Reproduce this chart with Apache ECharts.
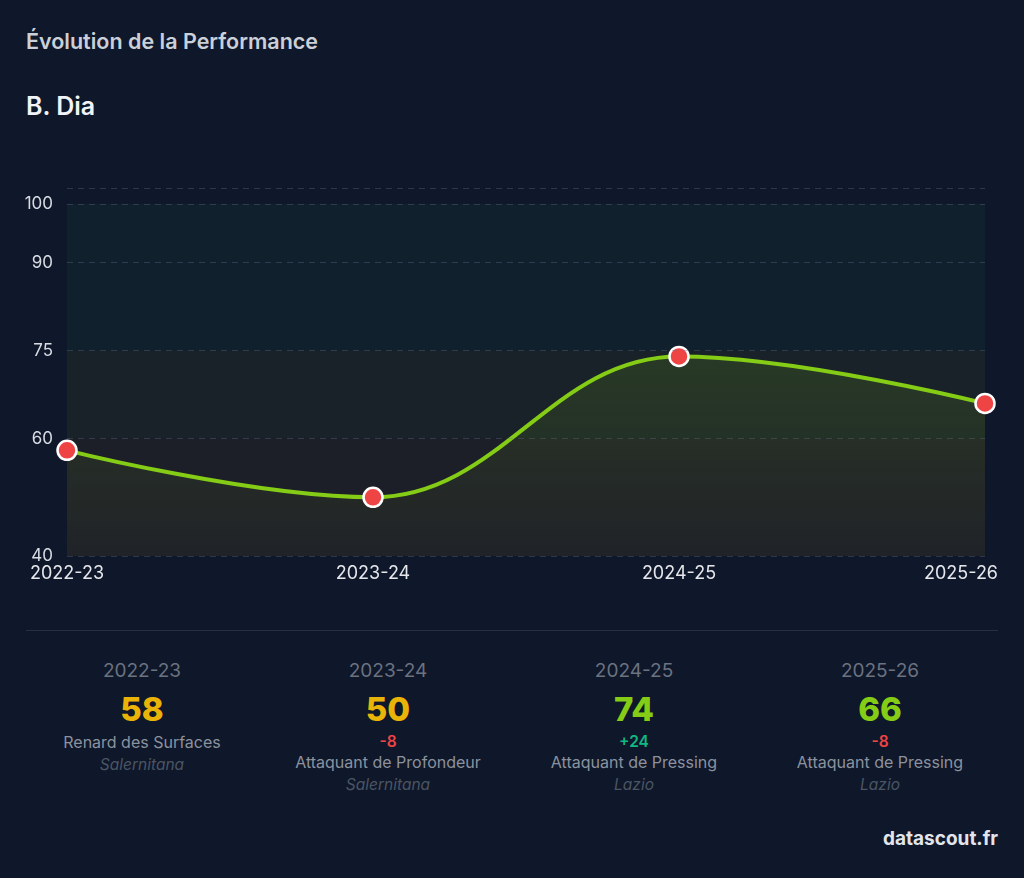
<!DOCTYPE html>
<html>
<head>
<meta charset="utf-8">
<script src="https://cdn.jsdelivr.net/npm/echarts@6/dist/echarts.min.js"></script>
<style>
    html, body { margin: 0; padding: 0; background: #0f172a; }
    body { width: 1024px; height: 878px; position: relative; overflow: hidden; font-family: Inter, "Noto Sans", sans-serif; }
    .title { position: absolute; left: 26px; top: 28px; font-size: 21.5px; font-weight: 600; color: #cbd0d8; }
    .player { position: absolute; left: 26px; top: 91px; font-size: 25px; font-weight: 600; color: #f1f3f6; }
    #chart { position: absolute; left: 0; top: 0; width: 1024px; height: 610px; }
    .divider { position: absolute; left: 26px; top: 630px; width: 972px; height: 1px; background: #253044; }
    .stats { position: absolute; left: 19px; top: 659px; width: 984px; display: flex; }
    .stat { width: 246px; text-align: center; }
    .season { font-size: 19px; line-height: 24px; color: #6b7280; margin-bottom: 8px; }
    .value { font-size: 33px; line-height: 36px; font-weight: 800; margin-bottom: 5px; }
    .delta { font-size: 15.5px; line-height: 20px; font-weight: 600; }
    .role { font-size: 16px; line-height: 21px; color: #8b929e; }
    .team { font-size: 15.5px; line-height: 23px; color: #4b5563; font-style: italic; }
    .brand { position: absolute; right: 26px; top: 827px; font-size: 19px; font-weight: 700; color: #e2e5ea; }
</style>
</head>
<body>
<div class="title">Évolution de la Performance</div>
<div class="player">B. Dia</div>
<div id="chart"></div>
<div class="divider"></div>
<div class="stats" id="stats"></div>
<div class="brand">datascout.fr</div>
<script>
    // saisons et notes
    var seasons = ['2022-23', '2023-24', '2024-25', '2025-26'];
    var ratings = [58, 50, 74, 66];
    var roles = ['Renard des Surfaces', 'Attaquant de Profondeur', 'Attaquant de Pressing', 'Attaquant de Pressing'];
    var teams = ['Salernitana', 'Salernitana', 'Lazio', 'Lazio'];

    // axe y
    var yTicks = [40, 60, 75, 90, 100];
    var yMin = 40;
    var yMax = 102.7;
    var bandEdges = [40, 60, 75, 100];
    var bandColors = ['rgba(202,123,30,0.08)', 'rgba(152,160,30,0.08)', 'rgba(40,148,92,0.08)'];

    function ratingColor(v) {
        return v >= 65 ? '#84cc16' : '#eab308';
    }

    var html = '';
    for (var i = 0; i < seasons.length; i++) {
        var d = '';
        if (i > 0) {
            var diff = ratings[i] - ratings[i - 1];
            d = '<div class="delta" style="color:' + (diff >= 0 ? '#10b981' : '#ef4444') + '">' + (diff >= 0 ? '+' : '') + diff + '</div>';
        }
        html += '<div class="stat">' +
            '<div class="season">' + seasons[i] + '</div>' +
            '<div class="value" style="color:' + ratingColor(ratings[i]) + '">' + ratings[i] + '</div>' +
            d +
            '<div class="role">' + roles[i] + '</div>' +
            '<div class="team">' + teams[i] + '</div>' +
            '</div>';
    }
    document.getElementById('stats').innerHTML = html;

    var chart = echarts.init(document.getElementById('chart'));

    var bands = [];
    for (var b = 0; b < bandEdges.length - 1; b++) {
        bands.push([{ yAxis: bandEdges[b], itemStyle: { color: bandColors[b] } }, { yAxis: bandEdges[b + 1] }]);
    }
    var gridLines = yTicks.concat([yMax]).map(function(v) { return { yAxis: v }; });

    var option = {
        animation: false,
        grid: { left: 67, right: 39, top: 188, bottom: 54 },
        xAxis: {
            type: 'category',
            boundaryGap: false,
            data: seasons,
            axisLine: { show: false },
            axisTick: { show: false },
            axisLabel: {
                color: '#e5e7eb',
                fontSize: 18,
                fontFamily: 'Inter',
                margin: 9,
                formatter: function(v, idx) {
                    return idx === seasons.length - 1 ? '{last|' + v + '}' : v;
                },
                rich: { last: { fontSize: 18, fontFamily: 'Inter', color: '#e5e7eb', padding: [0, 48, 0, 0] } }
            }
        },
        yAxis: {
            type: 'value',
            min: yMin,
            max: yMax,
            axisLine: { show: false },
            axisTick: { show: false },
            splitLine: { show: false },
            axisLabel: {
                customValues: yTicks,
                color: '#d8dce2',
                fontSize: 17,
                fontFamily: 'Inter',
                margin: 14
            }
        },
        series: [{
            type: 'line',
            data: ratings,
            smooth: 0.4,
            symbol: 'circle',
            symbolSize: 19,
            clip: false,
            lineStyle: { color: '#84cc16', width: 4 },
            itemStyle: { color: '#ef4444', borderColor: '#ffffff', borderWidth: 2.5 },
            areaStyle: {
                color: new echarts.graphic.LinearGradient(0, 0, 0, 1, [
                    { offset: 0, color: 'rgba(132,204,22,0.2)' },
                    { offset: 1, color: 'rgba(132,204,22,0.03)' }
                ]),
                origin: 'start'
            },
            markArea: { silent: true, data: bands },
            markLine: {
                silent: true,
                symbol: 'none',
                label: { show: false },
                lineStyle: { color: 'rgba(100,116,139,0.35)', type: [6, 5], width: 1 },
                data: gridLines
            }
        }]
    };
    chart.setOption(option);
</script>
</body>
</html>
